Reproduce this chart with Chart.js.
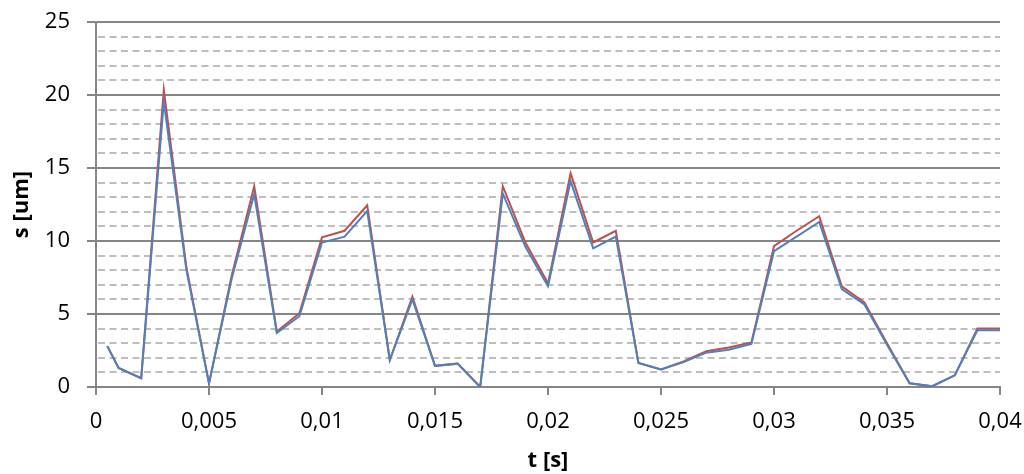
<!DOCTYPE html>
<html>
<head>
<meta charset="utf-8">
<script src="https://cdn.jsdelivr.net/npm/chart.js@4/dist/chart.umd.min.js"></script>
<style>
  html, body { margin: 0; padding: 0; background: #fff; }
  #wrap { width: 1024px; height: 474px; }
</style>
</head>
<body>
<div id="wrap"><canvas id="chart"></canvas></div>
<script>
// time stamps [s]
const tValues = [0.0005, 0.001, 0.002, 0.003, 0.004, 0.005, 0.006, 0.007, 0.008, 0.009,
  0.010, 0.011, 0.012, 0.013, 0.014, 0.015, 0.016, 0.017, 0.018, 0.019,
  0.020, 0.021, 0.022, 0.023, 0.024, 0.025, 0.026, 0.027, 0.028, 0.029,
  0.030, 0.031, 0.032, 0.033, 0.034, 0.035, 0.036, 0.037, 0.038, 0.039, 0.040];

// red series s [um]
const sRed = [2.8, 1.3, 0.6, 20.35, 8.2, 0.25, 7.6, 13.75, 3.8, 5.05,
  10.25, 10.7, 12.45, 1.85, 6.2, 1.45, 1.6, 0.0, 13.75, 9.9,
  7.1, 14.65, 9.9, 10.7, 1.65, 1.2, 1.75, 2.45, 2.7, 3.05,
  9.65, 10.7, 11.7, 6.9, 5.8, 3.0, 0.25, 0.05, 0.8, 4.0, 4.0];

// blue series s [um]
const sBlue = [2.8, 1.3, 0.6, 19.55, 8.0, 0.25, 7.4, 13.2, 3.7, 4.85,
  9.9, 10.3, 12.05, 1.85, 6.0, 1.45, 1.6, 0.0, 13.25, 9.6,
  6.9, 14.1, 9.5, 10.3, 1.65, 1.2, 1.7, 2.35, 2.55, 2.95,
  9.3, 10.3, 11.3, 6.7, 5.65, 2.9, 0.25, 0.05, 0.8, 3.88, 3.88];

const xTicks = [0, 0.005, 0.01, 0.015, 0.02, 0.025, 0.03, 0.035, 0.04];
const yMajor = [0, 5, 10, 15, 20, 25];

function pts(ys) {
  return tValues.map((t, i) => ({ x: t, y: ys[i] }));
}

const FONT = '"Open Sans", "Liberation Sans", sans-serif';
const isMajor = v => Math.abs(v % 5) < 1e-9;

new Chart(document.getElementById('chart'), {
  type: 'line',
  data: {
    datasets: [
      { label: 'blue', data: pts(sBlue), borderColor: '#4F81BD', borderWidth: 2, pointRadius: 0, tension: 0, order: 1 },
      { label: 'red', data: pts(sRed), borderColor: '#C0504D', borderWidth: 2, pointRadius: 0, tension: 0, order: 2 }
    ]
  },
  options: {
    responsive: true,
    maintainAspectRatio: false,
    animation: false,
    layout: { padding: { top: 22, right: 24, left: 9, bottom: 0 } },
    plugins: { legend: { display: false }, tooltip: { enabled: false } },
    scales: {
      x: {
        type: 'linear',
        min: 0,
        max: 0.04,
        afterBuildTicks: axis => { axis.ticks = xTicks.map(v => ({ value: v })); },
        afterFit: s => { s.height = 87; s.paddingLeft = 0; s.paddingRight = 0; },
        ticks: {
          color: '#000',
          font: { family: FONT, size: 22 },
          padding: 14,
          maxRotation: 0,
          callback: v => String(+v.toFixed(4)).replace('.', ',')
        },
        grid: { drawOnChartArea: false, drawTicks: true, tickLength: 8, color: '#868686', lineWidth: 2 },
        border: { display: true, color: '#868686', width: 2 },
        title: { display: true, text: 't [s]', color: '#000', font: { family: FONT, size: 22, weight: 'bold' }, padding: { top: 0, bottom: 0 } }
      },
      y: {
        min: 0,
        max: 25,
        afterFit: s => { s.width = 87; s.paddingTop = 0; s.paddingBottom = 0; },
        ticks: {
          stepSize: 1,
          autoSkip: false,
          color: '#000',
          font: { family: FONT, size: 22 },
          padding: 17,
          callback: v => (yMajor.includes(v) ? String(v) : '')
        },
        grid: {
          color: c => (isMajor(c.tick.value) ? '#868686' : '#BEBEBE'),
          lineWidth: 2,
          tickLength: 9,
          tickColor: c => (isMajor(c.tick.value) ? '#868686' : 'rgba(0,0,0,0)')
        },
        border: {
          display: true,
          color: '#868686',
          width: 2,
          dash: c => (c.tick && !isMajor(c.tick.value) ? [7, 4.5] : []),
          dashOffset: -1
        },
        title: { display: true, text: 's [um]', color: '#000', font: { family: FONT, size: 22, weight: 'bold' }, padding: { top: 0, bottom: 0 } }
      }
    }
  }
});
</script>
</body>
</html>
